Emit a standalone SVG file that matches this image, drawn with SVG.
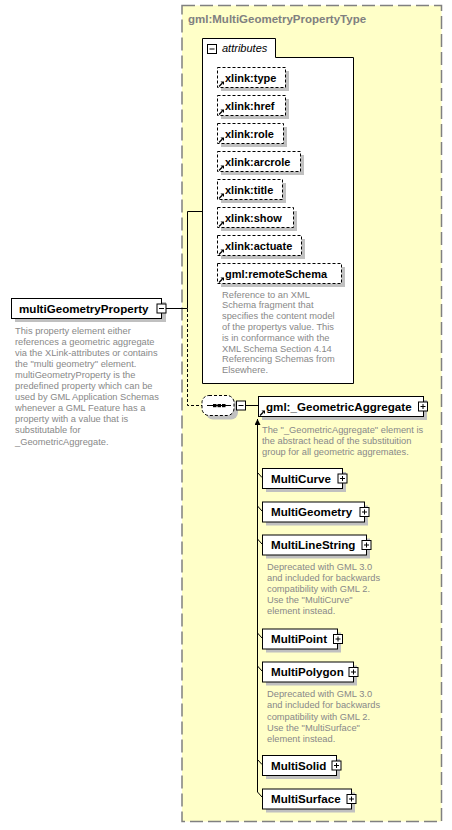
<svg xmlns="http://www.w3.org/2000/svg" xmlns:xlink="http://www.w3.org/1999/xlink" width="452" height="830" viewBox="0 0 452 830">
<style>
text{font-family:"Liberation Sans",Arial,sans-serif}
.nm{font-size:11.6px;font-weight:bold;fill:#000}
.at{font-size:11px;font-weight:bold;fill:#000}
.ds{font-size:9.3px;fill:#888}
.ttl{font-size:11.5px;font-weight:bold;fill:#808080}
.box{fill:#fff;stroke:#000;stroke-width:1}
.dbox{fill:#fff;stroke:#000;stroke-width:1;stroke-dasharray:3 2}
.sh{fill:#c0c0c0}
.ln{fill:none;stroke:#000;stroke-width:1}
.dln{fill:none;stroke:#000;stroke-width:1;stroke-dasharray:3 2}
.ic{fill:#fff;stroke:#000;stroke-width:1}
</style>
<defs>
<g id="lnk"><path d="M1,6 L4.2,2.8" stroke="#000" stroke-width="1.3"/><polygon points="2.5,1 6,1 6,4.5" fill="#000"/></g>
<g id="plus"><rect class="ic" x="0" y="0" width="9" height="9"/><path class="ln" d="M2,4.5 H7 M4.5,2 V7"/></g>
<g id="minus"><rect class="ic" x="0" y="0" width="9" height="9"/><path class="ln" d="M2,4.5 H7"/></g>
<marker id="arr" markerUnits="userSpaceOnUse" markerWidth="7" markerHeight="7" refX="6" refY="3" orient="auto"><path d="M0,0 L6,3 L0,6 Z" fill="#000"/></marker>
</defs>

<g id="type-box">
<rect x="182" y="5.5" width="259.5" height="816" fill="#FFFFC8" stroke="#808080" stroke-width="1.5" stroke-dasharray="13 5"/>
<text class="ttl" x="188" y="23">gml:MultiGeometryPropertyType</text>
</g>

<g id="attributes">
<path d="M202.5,383.5 V38.5 H275.5 V57.5 H353.5 V383.5 Z" fill="#fff" stroke="#000" stroke-width="1"/>
<use href="#minus" x="207.5" y="44.5"/>
<text x="222" y="52" font-size="11px" font-style="italic" fill="#000" style="font-family:'Liberation Sans',Arial,sans-serif">attributes</text>
</g>

<g id="attr-type"><rect class="sh" x="221" y="71" width="68" height="20"/><rect class="dbox" x="217.5" y="67.5" width="68" height="20"/><use href="#lnk" x="218" y="80.5"/><text class="at" x="225" y="81.5">xlink:type</text></g>
<g id="attr-href"><rect class="sh" x="221" y="99" width="68" height="20"/><rect class="dbox" x="217.5" y="95.5" width="68" height="20"/><use href="#lnk" x="218" y="108.5"/><text class="at" x="225" y="109.5">xlink:href</text></g>
<g id="attr-role"><rect class="sh" x="221" y="127" width="66" height="20"/><rect class="dbox" x="217.5" y="123.5" width="66" height="20"/><use href="#lnk" x="218" y="136.5"/><text class="at" x="225" y="137.5">xlink:role</text></g>
<g id="attr-arcrole"><rect class="sh" x="221" y="155" width="83" height="20"/><rect class="dbox" x="217.5" y="151.5" width="83" height="20"/><use href="#lnk" x="218" y="164.5"/><text class="at" x="225" y="165.5">xlink:arcrole</text></g>
<g id="attr-title"><rect class="sh" x="221" y="183" width="65" height="20"/><rect class="dbox" x="217.5" y="179.5" width="65" height="20"/><use href="#lnk" x="218" y="192.5"/><text class="at" x="225" y="193.5">xlink:title</text></g>
<g id="attr-show"><rect class="sh" x="221" y="211" width="76" height="20"/><rect class="dbox" x="217.5" y="207.5" width="76" height="20"/><use href="#lnk" x="218" y="220.5"/><text class="at" x="225" y="221.5">xlink:show</text></g>
<g id="attr-actuate"><rect class="sh" x="221" y="239" width="84" height="20"/><rect class="dbox" x="217.5" y="235.5" width="84" height="20"/><use href="#lnk" x="218" y="248.5"/><text class="at" x="225" y="249.5">xlink:actuate</text></g>
<g id="attr-remoteSchema"><rect class="sh" x="221" y="267" width="124" height="20"/><rect class="dbox" x="217.5" y="263.5" width="124" height="20"/><use href="#lnk" x="218" y="276.5"/><text class="at" x="225" y="277.5">gml:remoteSchema</text>
<text class="ds" x="222" y="297.5">Reference to an XML</text>
<text class="ds" x="222" y="308.3">Schema fragment that</text>
<text class="ds" x="222" y="319.1">specifies the content model</text>
<text class="ds" x="222" y="329.9">of the propertys value. This</text>
<text class="ds" x="222" y="340.7">is in conformance with the</text>
<text class="ds" x="222" y="351.5">XML Schema Section 4.14</text>
<text class="ds" x="222" y="362.3">Referencing Schemas from</text>
<text class="ds" x="222" y="373.1">Elsewhere.</text>
</g>

<g id="multiGeometryProperty">
<rect class="sh" x="15" y="302" width="151" height="20"/>
<rect class="box" x="11.5" y="298.5" width="150" height="20"/>
<text class="nm" x="19" y="312.5">multiGeometryProperty</text>
<use href="#minus" x="157" y="304"/>
<text class="ds" x="15" y="333.5">This property element either</text>
<text class="ds" x="15" y="344.6">references a geometric aggregate</text>
<text class="ds" x="15" y="355.7">via the XLink-attributes or contains</text>
<text class="ds" x="15" y="366.8">the "multi geometry" element.</text>
<text class="ds" x="15" y="377.9">multiGeometryProperty is the</text>
<text class="ds" x="15" y="389">predefined property which can be</text>
<text class="ds" x="15" y="400.1">used by GML Application Schemas</text>
<text class="ds" x="15" y="411.2">whenever a GML Feature has a</text>
<text class="ds" x="15" y="422.3">property with a value that is</text>
<text class="ds" x="15" y="433.4">substitutable for</text>
<text class="ds" x="15" y="444.5">_GeometricAggregate.</text>
</g>

<g id="connectors">
<path class="ln" d="M166,308.5 H187.5 V211.5 H202.5"/>
<path class="dln" d="M187.5,309 V405.5 H202"/>
<path class="ln" d="M245.5,405.5 H258"/>
<path class="ln" d="M257.5,792 V419" marker-end="url(#arr)"/>
<path class="ln" d="M257.5,472.5 L262,477.5"/>
<path class="ln" d="M257.5,506 L262,511"/>
<path class="ln" d="M257.5,539 L262,544"/>
<path class="ln" d="M257.5,633 L262,638"/>
<path class="ln" d="M257.5,666 L262,671"/>
<path class="ln" d="M257.5,759.5 L262,764.5"/>
<path class="ln" d="M257.5,792 L262,797"/>
</g>

<g id="sequence">
<rect class="sh" x="206" y="399.5" width="32" height="20" rx="7"/>
<rect class="dbox" x="202" y="395.5" width="32" height="20" rx="7"/>
<path class="ln" d="M207,405.5 H231"/>
<rect x="213" y="404" width="3.5" height="3.2" fill="#000"/>
<rect x="217.5" y="404" width="3.5" height="3.2" fill="#000"/>
<rect x="222" y="404" width="3.5" height="3.2" fill="#000"/>
<use href="#minus" x="236.5" y="401"/>
</g>

<g id="GeometricAggregate">
<rect class="sh" x="262" y="400" width="165" height="20"/>
<rect class="box" x="258.5" y="396.5" width="165" height="20"/>
<use href="#lnk" x="259" y="409.5"/>
<text class="nm" x="266" y="410.5">gml:_GeometricAggregate</text>
<use href="#plus" x="418.5" y="402"/>
<text class="ds" x="262" y="433">The "_GeometricAggregate" element is</text>
<text class="ds" x="262" y="444">the abstract head of the substituition</text>
<text class="ds" x="262" y="455">group for all geometric aggremates.</text>
</g>

<g id="MultiCurve"><rect class="sh" x="266" y="472" width="80" height="20"/><rect class="box" x="262.5" y="468.5" width="80" height="20"/><text class="nm" x="271" y="482.5">MultiCurve</text><use href="#plus" x="338" y="474"/></g>
<g id="MultiGeometry"><rect class="sh" x="266" y="505.5" width="102" height="20"/><rect class="box" x="262.5" y="502" width="102" height="20"/><text class="nm" x="271" y="516">MultiGeometry</text><use href="#plus" x="360" y="507.5"/></g>
<g id="MultiLineString"><rect class="sh" x="266" y="538.5" width="104" height="20"/><rect class="box" x="262.5" y="535" width="104" height="20"/><text class="nm" x="271" y="549">MultiLineString</text><use href="#plus" x="362" y="540.5"/>
<text class="ds" x="267" y="570">Deprecated with GML 3.0</text>
<text class="ds" x="267" y="581">and included for backwards</text>
<text class="ds" x="267" y="592">compatibility with GML 2.</text>
<text class="ds" x="267" y="603">Use the "MultiCurve"</text>
<text class="ds" x="267" y="614">element instead.</text>
</g>
<g id="MultiPoint"><rect class="sh" x="266" y="632.5" width="75" height="20"/><rect class="box" x="262.5" y="629" width="75" height="20"/><text class="nm" x="271" y="643">MultiPoint</text><use href="#plus" x="333.5" y="634.5"/></g>
<g id="MultiPolygon"><rect class="sh" x="266" y="665.5" width="91" height="20"/><rect class="box" x="262.5" y="662" width="91" height="20"/><text class="nm" x="271" y="676">MultiPolygon</text><use href="#plus" x="349" y="667.5"/>
<text class="ds" x="267" y="697">Deprecated with GML 3.0</text>
<text class="ds" x="267" y="708.3">and included for backwards</text>
<text class="ds" x="267" y="719.5">compatibility with GML 2.</text>
<text class="ds" x="267" y="730.8">Use the "MultiSurface"</text>
<text class="ds" x="267" y="742">element instead.</text>
</g>
<g id="MultiSolid"><rect class="sh" x="266" y="759" width="74" height="20"/><rect class="box" x="262.5" y="755.5" width="74" height="20"/><text class="nm" x="271" y="769.5">MultiSolid</text><use href="#plus" x="332" y="761"/></g>
<g id="MultiSurface"><rect class="sh" x="266" y="792.5" width="89" height="20"/><rect class="box" x="262.5" y="789" width="89" height="20"/><text class="nm" x="271" y="803">MultiSurface</text><use href="#plus" x="347" y="794.5"/></g>
</svg>
